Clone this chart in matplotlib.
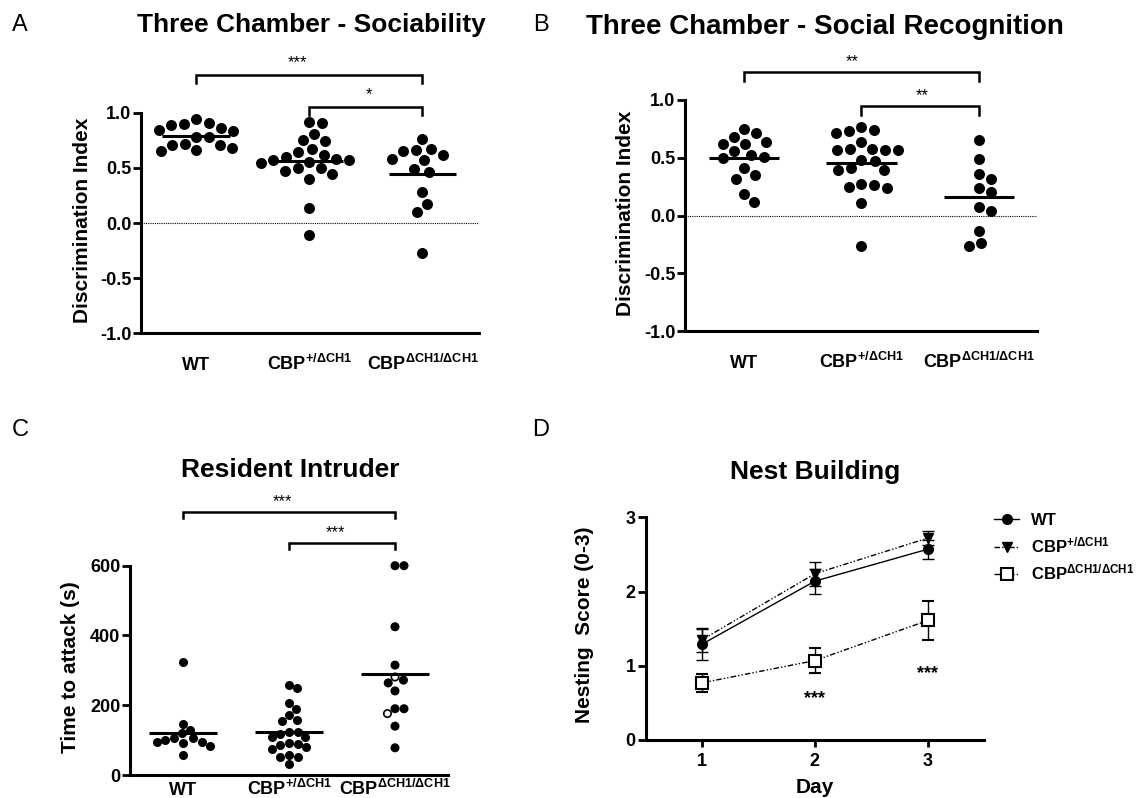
import numpy as np
import matplotlib
matplotlib.use("Agg")
import matplotlib.pyplot as plt
from matplotlib.lines import Line2D

plt.rcParams["font.family"] = ["Liberation Sans", "DejaVu Sans"]
plt.rcParams["font.weight"] = "bold"
plt.rcParams["axes.labelweight"] = "bold"
plt.rcParams["axes.titleweight"] = "bold"
plt.rcParams["mathtext.fontset"] = "custom"
plt.rcParams["mathtext.rm"] = "Liberation Sans:bold"
plt.rcParams["mathtext.it"] = "Liberation Sans:bold"
plt.rcParams["mathtext.bf"] = "Liberation Sans:bold"
plt.rcParams["mathtext.default"] = "rm"
plt.rcParams["axes.unicode_minus"] = False

# ---- data ----
groups = ["WT", "CBP$^{{+}/ΔCH1}$", "CBP$^{ΔCH1/ΔCH1}$"]

# A: three chamber sociability, discrimination index
a_wt = [0.89, 0.94, 0.90, 0.91, 0.86, 0.84, 0.83, 0.78, 0.78, 0.71, 0.68, 0.65, 0.66, 0.71, 0.72]
a_het = [0.91, 0.92, 0.81, 0.75, 0.74, 0.67, 0.64, 0.62, 0.60, 0.57, 0.55, 0.54, 0.57, 0.58,
         0.50, 0.47, 0.40, 0.44, 0.50, 0.14, -0.11]
a_hom = [0.76, 0.67, 0.65, 0.66, 0.62, 0.58, 0.57, 0.49, 0.46, 0.28, 0.17, 0.10, -0.27]

# B: social recognition
b_wt = [0.68, 0.75, 0.71, 0.62, 0.62, 0.64, 0.56, 0.52, 0.50, 0.51, 0.41, 0.35, 0.32, 0.19, 0.12]
b_het = [0.77, 0.73, 0.71, 0.74, 0.64, 0.58, 0.57, 0.57, 0.57, 0.58, 0.47, 0.48, 0.39, 0.39,
         0.41, 0.26, 0.24, 0.25, 0.27, 0.11, -0.26]
b_hom = [0.65, 0.49, 0.36, 0.32, 0.24, 0.20, 0.04, 0.07, -0.13, -0.26, -0.24]

# C: resident intruder, time to attack (s)
c_wt = [325, 145, 119, 96, 91, 105, 99, 83, 105, 96, 129, 57]
c_het = [257, 248, 190, 207, 158, 156, 171, 108, 123, 118, 123, 108, 89, 80, 75, 87, 91,
         53, 53, 58, 32]
c_hom = [600, 600, 425, 315, 281, 264, 272, 241, 190, 190, 176, 140, 78]
c_hom_open = [False, False, False, False, True, False, False, False, False, False, True, False, False]

# D: nest building, mean +- sem
days = [1, 2, 3]
d_wt = [1.29, 2.14, 2.57]
d_wt_sem = [0.21, 0.17, 0.13]
d_het = [1.35, 2.24, 2.72]
d_het_sem = [0.16, 0.16, 0.09]
d_hom = [0.77, 1.07, 1.61]
d_hom_sem = [0.12, 0.17, 0.26]
d_stars = [(2, "***"), (3, "***")]

sig_a = [(0, 2, "***"), (1, 2, "*")]
sig_b = [(0, 2, "**"), (1, 2, "**")]
sig_c = [(0, 2, "***"), (1, 2, "***")]

W, H = 1136, 798
fig = plt.figure(figsize=(W / 100, H / 100), dpi=100)


def px_axes(l, t, r, b):
    return fig.add_axes([l / W, 1 - b / H, (r - l) / W, (b - t) / H])


def swarm_x(ax, center, vals, d_px):
    bb = ax.get_position()
    x0, x1 = ax.get_xlim(); y0, y1 = ax.get_ylim()
    sx = bb.width * W / (x1 - x0); sy = bb.height * H / (y1 - y0)
    ys = np.asarray(vals, float) * sy
    placed = []
    xs = np.zeros(len(ys))
    for i in np.argsort(-ys, kind="stable"):
        cands = [0.0]
        for px, py in placed:
            dy = ys[i] - py
            if abs(dy) < d_px:
                dx = np.sqrt(d_px ** 2 - dy ** 2)
                cands += [px + dx, px - dx]
        cands.sort(key=abs)
        for c in cands:
            if all((c - px) ** 2 + (ys[i] - py) ** 2 >= d_px ** 2 - 1e-6 for px, py in placed):
                break
        xs[i] = c
        placed.append((c, ys[i]))
    return center + xs / sx


def style(ax, lw=2.2):
    for s in ("top", "right"):
        ax.spines[s].set_visible(False)
    for s in ("left", "bottom"):
        ax.spines[s].set_linewidth(lw)
    ax.tick_params(axis="y", length=6, width=2, pad=1, labelsize=13)
    ax.tick_params(axis="x", labelsize=13)


def brackets(ax, sigs, ys, drop, star_off, star_x):
    for (g1, g2, txt), y, sx in zip(sigs, ys, star_x):
        ax.plot([g1, g1, g2, g2], [y - drop, y, y, y - drop], color="k", lw=1.8,
                clip_on=False, solid_joinstyle="miter")
        ax.text(sx, y + star_off, txt, ha="center", va="baseline", fontsize=12,
                fontweight="normal")


def dot_panel(ax, data, s, d_px, half=0.3, open_flags=None):
    for i, vals in enumerate(data):
        xs = swarm_x(ax, i, vals, d_px)
        if open_flags is not None and i == 2:
            fc = ["white" if o else "black" for o in open_flags]
        else:
            fc = "black"
        ax.scatter(xs, vals, s=s, facecolors=fc, edgecolors="black", linewidths=1.2,
                   zorder=3, clip_on=False)
        ax.hlines(np.mean(vals), i - half, i + half, color="k", lw=2.2, zorder=4)
    ax.set_xticks(range(3))
    ax.set_xticklabels(groups)
    for lbl in ax.get_xticklabels():
        lbl.set_va("baseline")


# ---- A ----
axA = px_axes(141, 112.7, 479, 333.3)
axA.set_xlim(-0.49, 2.5); axA.set_ylim(-1, 1)
style(axA)
dot_panel(axA, [a_wt, a_het, a_hom], 45, 13)
axA.axhline(0, color="k", lw=0.8, ls=(0, (1, 1)), zorder=1)
axA.set_yticks([-1, -0.5, 0, 0.5, 1])
axA.set_yticklabels([f"{v:.1f}" for v in [-1, -0.5, 0, 0.5, 1]])
axA.tick_params(axis="x", length=0, pad=26.4)
axA.set_ylabel("Discrimination Index", fontsize=15, va="center")
axA.yaxis.set_label_coords(-0.172, 0.514)
axA.set_title("Three Chamber - Sociability", fontsize=19, x=0.503, y=1.398,
              va="center", pad=0)
brackets(axA, sig_a, [1.342, 1.052], 0.072, 0.068, [0.89, 1.53])

# ---- B ----
axB = px_axes(685.3, 100, 1037.4, 331)
axB.set_xlim(-0.5, 2.5); axB.set_ylim(-1, 1)
style(axB)
dot_panel(axB, [b_wt, b_het, b_hom], 45, 13)
axB.axhline(0, color="k", lw=0.8, ls=(0, (1, 1)), zorder=1)
axB.set_yticks([-1, -0.5, 0, 0.5, 1])
axB.set_yticklabels([f"{v:.1f}" for v in [-1, -0.5, 0, 0.5, 1]])
axB.tick_params(axis="x", length=0, pad=26.9)
axB.set_ylabel("Discrimination Index", fontsize=15, va="center")
axB.yaxis.set_label_coords(-0.171, 0.51)
axB.set_title("Three Chamber - Social Recognition", fontsize=20, x=0.397, y=1.317,
              va="center", pad=0)
brackets(axB, sig_b, [1.240, 0.948], 0.076, 0.052, [0.92, 1.52])

# ---- C ----
axC = px_axes(130, 565.7, 448, 775)
axC.set_xlim(-0.5, 2.5); axC.set_ylim(0, 600)
style(axC)
dot_panel(axC, [c_wt, c_het, c_hom], 28, 9, half=0.32, open_flags=c_hom_open)
axC.set_yticks([0, 200, 400, 600])
axC.tick_params(axis="x", length=0, pad=14.5)
axC.set_ylabel("Time to attack (s)", fontsize=15, va="center")
axC.yaxis.set_label_coords(-0.188, 0.514)
axC.set_title("Resident Intruder", fontsize=19, x=0.503, y=1.457, va="center", pad=0)
brackets(axC, sig_c, [754.8, 666.0], 19, 15, [0.94, 1.44])

# ---- D ----
axD = px_axes(645.5, 517.3, 984.2, 740)
axD.set_xlim(0.5, 3.5); axD.set_ylim(0, 3)
style(axD)
dd = (4, 1.5, 1, 1.5, 1, 1.5)
axD.errorbar(days, d_wt, yerr=d_wt_sem, fmt="-o", color="k", ms=7, lw=1,
             elinewidth=1, capsize=4, capthick=1, label="WT", clip_on=False)
axD.errorbar(days, d_het, yerr=d_het_sem, fmt="v", ls=(0, dd), color="k", ms=7, lw=1,
             elinewidth=1, capsize=4, capthick=1, label=groups[1], clip_on=False)
axD.errorbar(days, d_hom, yerr=d_hom_sem, fmt="s", ls=(0, dd), color="k", ms=8, lw=1,
             mfc="white", mew=1.5, elinewidth=1, capsize=4, capthick=1, label=groups[2],
             clip_on=False)
for (dx, txt), ys in zip(d_stars, [0.50, 0.835]):
    axD.text(dx, ys, txt, ha="center", va="baseline", fontsize=13)
axD.set_xticks(days); axD.set_yticks([0, 1, 2, 3])
axD.tick_params(axis="x", length=5, width=2, pad=4.5)
axD.set_ylabel("Nesting  Score (0-3)", fontsize=15, va="center")
axD.yaxis.set_label_coords(-0.18, 0.516)
axD.set_xlabel("Day", fontsize=15, va="center")
axD.xaxis.set_label_coords(0.5, -0.2155)
axD.set_title("Nest Building", fontsize=19, x=0.5, y=1.205, va="center", pad=0)
handles = [Line2D([], [], color="k", lw=1, marker="o", ms=7),
           Line2D([], [], color="k", lw=1, ls=(0, dd), marker="v", ms=7),
           Line2D([], [], color="k", lw=1, ls=(0, dd), marker="s", ms=8, mfc="white", mew=1.5)]
fig.legend(handles, groups, loc="upper left", bbox_to_anchor=(994 / W, 1 - 513 / H),
           frameon=False, fontsize=12, handlelength=1.5, handletextpad=0.7,
           borderpad=0, borderaxespad=0, labelspacing=0.45)

# panel letters
for t, x, y in [("A", 20, 25), ("B", 541, 25), ("C", 20, 430), ("D", 541, 430)]:
    fig.text(x / W, 1 - y / H, t, fontsize=17, fontweight="normal", ha="center", va="center")

fig.savefig("out.png", dpi=100)
